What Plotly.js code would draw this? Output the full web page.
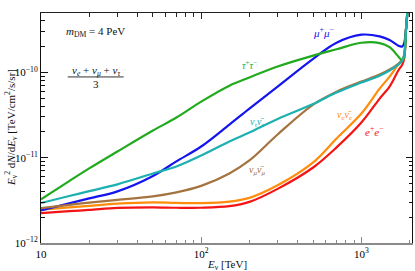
<!DOCTYPE html>
<html>
<head>
<meta charset="utf-8">
<script src="https://cdn.plot.ly/plotly-3.0.1.min.js"></script>
<style>html,body{margin:0;padding:0;background:#fff;}#chart{width:415px;height:271px;}</style>
</head>
<body>
<div id="chart"></div>
<script>
// Neutrino energy grid [TeV]
var energy = [10, 15, 20, 30, 50, 70, 100, 150, 200, 300, 500, 700, 1000, 1300, 1500, 1700, 1800, 1850, 1900, 1950, 2000];

// E^2 dN/dE [TeV/cm^2/s/sr] per channel
var tauTau = [3.24e-12, 5.31e-12, 7.48e-12, 1.18e-11, 2.08e-11, 2.95e-11, 4.54e-11, 6.98e-11, 8.71e-11, 1.17e-10, 1.57e-10, 1.86e-10, 2.22e-10, 2.20e-10, 1.97e-10, 1.53e-10, 1.37e-10, 1.5e-10, 3.2e-10, 6e-10, 1.5e-9];
var muMu = [2.41e-12, 2.91e-12, 3.33e-12, 4.03e-12, 6.11e-12, 9.04e-12, 1.35e-11, 2.44e-11, 3.76e-11, 6.81e-11, 1.44e-10, 2.22e-10, 2.76e-10, 2.64e-10, 2.39e-10, 2.05e-10, 2.01e-10, 2.2e-10, 3.2e-10, 6e-10, 1.5e-9];
var nuTau = [2.94e-12, 3.55e-12, 4.05e-12, 4.87e-12, 6.53e-12, 7.89e-12, 1.06e-11, 1.55e-11, 1.97e-11, 2.84e-11, 4.25e-11, 5.79e-11, 7.59e-11, 9.14e-11, 1.05e-10, 1.23e-10, 1.37e-10, 1.6e-10, 3.2e-10, 6e-10, 1.5e-9];
var nuMu = [2.56e-12, 2.80e-12, 2.97e-12, 3.20e-12, 3.52e-12, 3.92e-12, 4.67e-12, 6.53e-12, 9.27e-12, 1.87e-11, 4.19e-11, 5.94e-11, 7.78e-11, 9.40e-11, 1.08e-10, 1.26e-10, 1.41e-10, 1.6e-10, 3.2e-10, 6e-10, 1.5e-9];
var nuE = [2.46e-12, 2.61e-12, 2.72e-12, 2.89e-12, 2.99e-12, 2.95e-12, 2.93e-12, 3.05e-12, 3.38e-12, 4.74e-12, 8.79e-12, 1.68e-11, 3.29e-11, 6.44e-11, 8.91e-11, 1.23e-10, 1.37e-10, 1.55e-10, 3.2e-10, 6e-10, 1.5e-9];
var eE = [2.24e-12, 2.36e-12, 2.44e-12, 2.58e-12, 2.62e-12, 2.59e-12, 2.59e-12, 2.70e-12, 3.03e-12, 4.31e-12, 7.67e-12, 1.32e-11, 2.58e-11, 4.92e-11, 6.81e-11, 1.05e-10, 1.23e-10, 1.45e-10, 3.2e-10, 6e-10, 1.5e-9];

// Tick positions and labels
var xTickVals = [10, 100, 1000];
var xTickText = ['10', '10<sup>2</sup>', '10<sup>3</sup>'];
var xMinorVals = [20, 30, 40, 50, 60, 70, 80, 90, 200, 300, 400, 500, 600, 700, 800, 900, 2000];
var yTickVals = [1e-12, 1e-11, 1e-10];
var yTickText = ['10<sup>\u221212</sup>', '10<sup>\u221211</sup>', '10<sup>\u221210</sup>'];
var yMinorVals = [2e-12, 3e-12, 4e-12, 5e-12, 6e-12, 7e-12, 8e-12, 9e-12, 2e-11, 3e-11, 4e-11, 5e-11, 6e-11, 7e-11, 8e-11, 9e-11, 2e-10, 3e-10, 4e-10, 5e-10];

var series = [
  {name: 'e+e-', y: eE, color: '#f41414'},
  {name: 'nue', y: nuE, color: '#ff8c0a'},
  {name: 'mumu', y: muMu, color: '#1414ee'},
  {name: 'numu', y: nuMu, color: '#a5733f'},
  {name: 'tautau', y: tauTau, color: '#22aa1e'},
  {name: 'nutau', y: nuTau, color: '#1cb0b0'}
];

var traces = series.map(function (s) {
  return {x: energy, y: s.y, type: 'scatter', mode: 'lines', name: s.name,
          line: {color: s.color, width: 2.2, shape: 'spline', smoothing: 1}, hoverinfo: 'skip'};
});
traces.push({x: [], y: [], xaxis: 'x2', type: 'scatter', mode: 'lines', showlegend: false});

var serif = 'Liberation Serif, Times New Roman, serif';
function lab(text, x, y, color, size) {
  return {text: text, x: x, y: y, xref: 'paper', yref: 'paper', showarrow: false,
          xanchor: 'center', yanchor: 'middle', font: {family: serif, size: size || 10, color: color}};
}

var layout = {
  width: 415, height: 271,
  margin: {l: 41.3, r: 3, t: 12.5, b: 28.3},
  paper_bgcolor: '#fff', plot_bgcolor: '#fff',
  showlegend: false,
  font: {family: serif, size: 11, color: '#000'},
  xaxis: {
    type: 'log', range: [1, 3.316], showgrid: false, zeroline: false,
    showline: true, linecolor: '#8a8a8a', linewidth: 1.5,
    ticks: 'inside', ticklen: 6, tickcolor: '#8a8a8a', tickwidth: 1,
    tickmode: 'array', tickvals: xTickVals, ticktext: xTickText,
    minor: {ticks: 'inside', ticklen: 3.5, tickcolor: '#8a8a8a', tickmode: 'array', tickvals: xMinorVals, showgrid: false},
    tickfont: {family: serif, size: 11, color: '#000'}
  },
  xaxis2: {
    type: 'log', range: [1, 3.316], overlaying: 'x', side: 'top', showgrid: false, zeroline: false,
    showline: true, linecolor: '#222', linewidth: 1,
    ticks: 'inside', ticklen: 6, tickcolor: '#222', tickwidth: 1, showticklabels: false,
    tickmode: 'array', tickvals: xTickVals,
    minor: {ticks: 'inside', ticklen: 3.5, tickcolor: '#222', tickmode: 'array', tickvals: xMinorVals, showgrid: false}
  },
  yaxis: {
    type: 'log', range: [-12, -9.305], showgrid: false, zeroline: false,
    showline: true, linecolor: '#111', linewidth: 1, mirror: 'ticks',
    ticks: 'inside', ticklen: 6.5, tickcolor: '#111', tickwidth: 1,
    tickmode: 'array', tickvals: yTickVals, ticktext: yTickText,
    minor: {ticks: 'inside', ticklen: 3.5, tickcolor: '#111', tickmode: 'array', tickvals: yMinorVals, showgrid: false},
    tickfont: {family: serif, size: 11, color: '#000'}
  },
  shapes: [
    {type: 'line', xref: 'paper', yref: 'paper', x0: 0.072, x1: 0.223, y0: 0.722, y1: 0.722,
     line: {color: '#333', width: 1}}
  ],
  annotations: [
    lab('<i>m</i><sub>DM</sub> = 4 PeV', 0.1476, 0.9175, '#111', 11),
    lab('<i>\u03bd<sub>e</sub></i> + <i>\u03bd<sub>\u03bc</sub></i> + <i>\u03bd<sub>\u03c4</sub></i>', 0.1476, 0.748, '#111', 11),
    lab('3', 0.1476, 0.692, '#111', 11),
    lab('<i>\u03bc</i><sup>+</sup><i>\u03bc</i><sup>\u2212</sup>', 0.7626, 0.918, '#1414ee', 11),
    lab('<i>\u03c4</i><sup>+</sup><i>\u03c4</i><sup>\u2212</sup>', 0.5627, 0.775, '#22aa1e', 10),
    lab('<i>\u03bd<sub>\u03c4</sub>\u03bd\u0304<sub>\u03c4</sub></i>', 0.581, 0.524, '#1cb0b0', 10),
    lab('<i>\u03bd<sub>\u03bc</sub>\u03bd\u0304<sub>\u03bc</sub></i>', 0.581, 0.316, '#a5733f', 10),
    lab('<i>\u03bd<sub>e</sub>\u03bd\u0304<sub>e</sub></i>', 0.8193, 0.5547, '#ff8c0a', 10),
    lab('<i>e</i><sup>+</sup><i>e</i><sup>\u2212</sup>', 0.8975, 0.486, '#f41414', 11),
    {text: '<i>E</i><sub>\u03bd</sub> [TeV]', x: 0.5, y: 0, xref: 'paper', yref: 'paper', showarrow: false,
     xanchor: 'center', yanchor: 'middle', yshift: -22, font: {family: serif, size: 11, color: '#111'}},
    {text: '<i>E</i><sub>\u03bd</sub><sup>2</sup> d<i>N</i>/d<i>E</i><sub>\u03bd</sub> [TeV/cm<sup>2</sup>/s/sr]', x: 0, y: 0.5,
     xref: 'paper', yref: 'paper', showarrow: false, textangle: -90,
     xanchor: 'center', yanchor: 'middle', xshift: -30, font: {family: serif, size: 11, color: '#111'}}
  ]
};

Plotly.newPlot('chart', traces, layout, {staticPlot: true, displayModeBar: false});
</script>
</body>
</html>
